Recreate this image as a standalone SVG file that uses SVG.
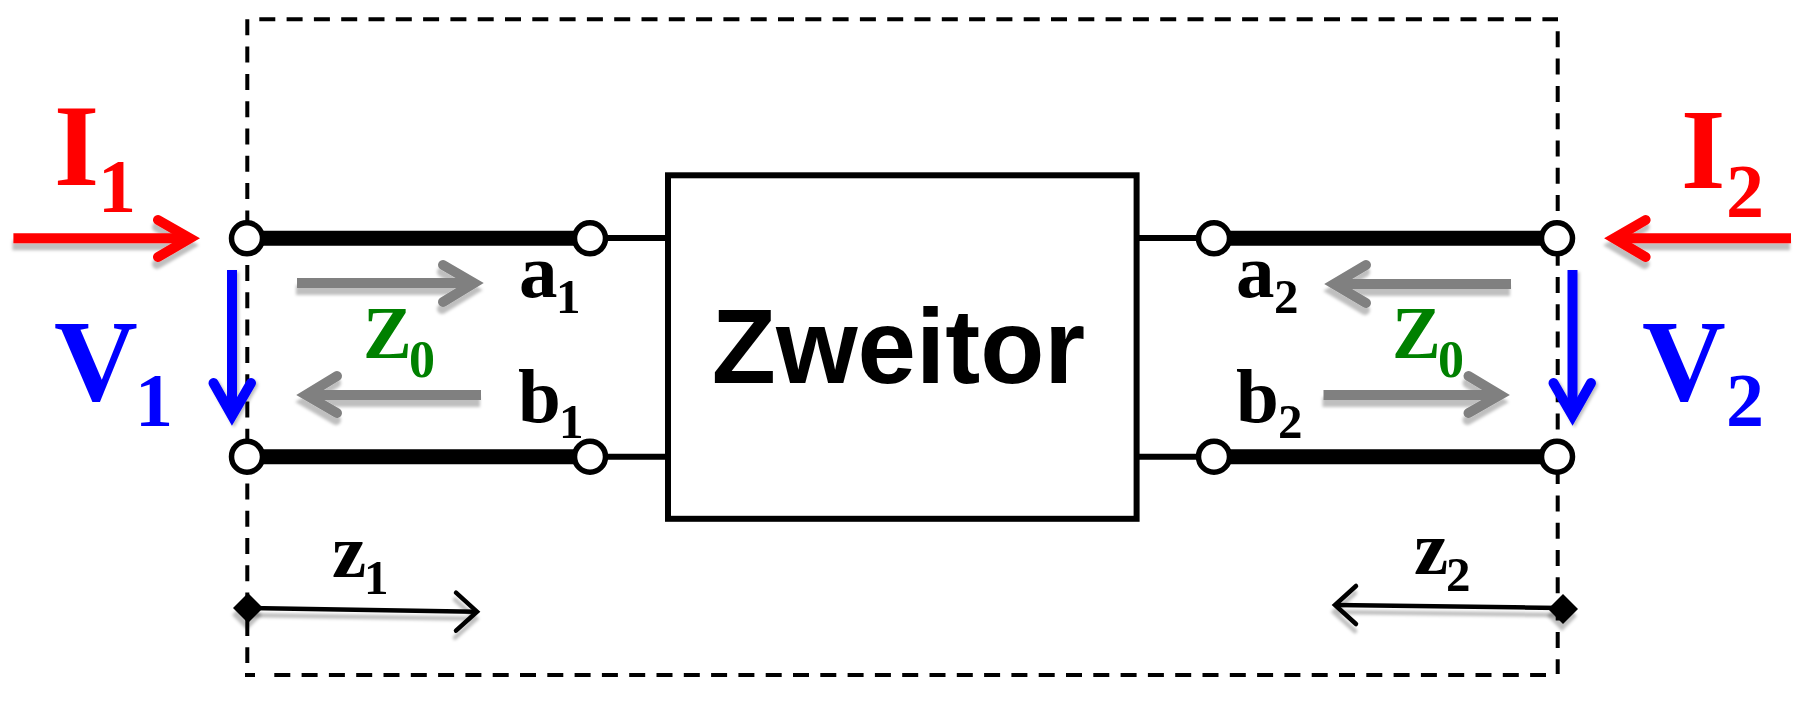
<svg xmlns="http://www.w3.org/2000/svg" width="1802" height="701" viewBox="0 0 1802 701">
<style>
.lb{font-family:"Liberation Serif","Times New Roman",serif;font-weight:700}
.big{font-size:116px}.s1{font-size:76px}.mid{font-size:77px}.s2{font-size:49px}
.z0{font-size:73px;fill:#008000}.z0 tspan{font-size:52px}
.r{fill:#f00}.u{fill:#00f}.k{fill:#000}
.shaft{fill:none;stroke-linecap:butt}
.head{fill:none;stroke-linecap:round;stroke-linejoin:miter;stroke-miterlimit:10}
.a-r{stroke:#f00;stroke-width:10;filter:url(#sh)}
.a-g{stroke:#808080;stroke-width:10;filter:url(#sh)}
.a-u{stroke:#00f;stroke-width:10;filter:url(#shb)}
.a-k{stroke:#000;stroke-width:4.5;filter:url(#sh)}
.thick{stroke:#000;stroke-width:15}
.thin{stroke:#000;stroke-width:6}
.port{fill:#fff;stroke:#000;stroke-width:5.5}
.dia{fill:#000;filter:url(#sh)}
</style>
<defs>
<filter id="sh" x="-20%" y="-60%" width="140%" height="220%"><feDropShadow dx="-1" dy="7" stdDeviation="1.5" flood-color="#000" flood-opacity=".25"/></filter>
<filter id="shb" x="-60%" y="-20%" width="220%" height="140%"><feDropShadow dx="2" dy="2" stdDeviation="1.5" flood-color="#000" flood-opacity=".25"/></filter>
</defs>
<rect width="1802" height="701" fill="#fff"/>
<g id="boundary"><path d="M247.3 19.3V663M259.3 19.3H1558M1557.7 31.3V674M245 675H255M274.3 675H1546" fill="none" stroke="#000" stroke-width="4" stroke-dasharray="16 11.3"/></g>
<g id="connectors">
<path class="thick" d="M247 238.3H590M247 456.7H590M1214 238.3H1557M1214 456.7H1557"/>
<path class="thin" d="M590 238H668M590 456.7H668M1136 238H1214M1136 456.7H1214"/>
<g class="a-r"><path class="shaft" d="M13.4 238.3H189"/><path class="head" d="M158 220L190 238.3 158 257"/></g>
<g class="a-r"><path class="shaft" d="M1791 238.3H1615"/><path class="head" d="M1645.6 220L1614 238.3 1645.6 257"/></g>
<g class="a-g"><path class="shaft" d="M297 283H473"/><path class="head" d="M443 265L474 283 443 302"/></g>
<g class="a-g"><path class="shaft" d="M481 395H307"/><path class="head" d="M337 376L306 395 337 413"/></g>
<g class="a-g"><path class="shaft" d="M1511 284H1335"/><path class="head" d="M1366 265L1334 284 1366 303"/></g>
<g class="a-g"><path class="shaft" d="M1323.5 395H1499"/><path class="head" d="M1468.5 376L1500 395 1468.5 413"/></g>
<g class="a-u"><path class="shaft" d="M232 270V415"/><path class="head" d="M213.5 383L232 415.7 251 383"/></g>
<g class="a-u"><path class="shaft" d="M1572.5 270V415"/><path class="head" d="M1553.5 383L1572.5 415.7 1591 383"/></g>
<g class="a-k"><path class="shaft" d="M248 608L476 611.7"/><path class="head" d="M456 592.7L477 611.7 456 630.7"/></g>
<g class="a-k"><path class="shaft" d="M1563 608L1335.5 605"/><path class="head" d="M1356 586L1335 605 1356 624"/></g>
</g>
<g id="zweitor"><rect x="668" y="175.3" width="468.6" height="343.5" fill="#fff" stroke="#000" stroke-width="6"/>
<text x="898.5" y="382.7" text-anchor="middle" font-family="'Liberation Sans',Arial,sans-serif" font-weight="700" font-size="105">Zweitor</text></g>
<g id="port-1a"><circle class="port" cx="247" cy="238.3" r="15.5"/></g>
<g id="port-1b"><circle class="port" cx="247" cy="456.7" r="15.5"/></g>
<g id="port-1c"><circle class="port" cx="590" cy="238.3" r="15.5"/></g>
<g id="port-1d"><circle class="port" cx="590" cy="456.7" r="15.5"/></g>
<g id="port-2a"><circle class="port" cx="1214" cy="238.3" r="15.5"/></g>
<g id="port-2b"><circle class="port" cx="1214" cy="456.7" r="15.5"/></g>
<g id="port-2c"><circle class="port" cx="1557" cy="238.3" r="15.5"/></g>
<g id="port-2d"><circle class="port" cx="1557" cy="456.7" r="15.5"/></g>
<g id="origin-1"><path class="dia" d="M248 593L263 608 248 623 233 608Z"/></g>
<g id="origin-2"><path class="dia" d="M1563 594L1578 609 1563 624 1548 609Z"/></g>
<g id="labels">
<text class="lb big r" x="54" y="185">I<tspan class="s1" x="98" y="212.3">1</tspan></text>
<text class="lb big r" x="1681" y="188.3" style="font-size:114px">I<tspan class="s1" x="1726" y="216.7">2</tspan></text>
<text class="lb big u" x="54" y="400">V<tspan class="s1" x="135" y="425.7">1</tspan></text>
<text class="lb big u" x="1642" y="400">V<tspan class="s1" x="1726" y="425.7">2</tspan></text>
<text class="lb mid k" x="519" y="296.7">a<tspan class="s2" x="556" y="313">1</tspan></text>
<text class="lb mid k" x="518" y="421.7">b<tspan class="s2" x="559" y="437.7">1</tspan></text>
<text class="lb mid k" x="1236" y="296.7">a<tspan class="s2" x="1274" y="313">2</tspan></text>
<text class="lb mid k" x="1236" y="421.7">b<tspan class="s2" x="1278" y="437.7">2</tspan></text>
<text class="lb z0" x="363" y="358.3">Z<tspan x="409" y="376.7">0</tspan></text>
<text class="lb z0" x="1392" y="358.3">Z<tspan x="1438" y="376.7">0</tspan></text>
<text class="lb mid k" x="332" y="576.7">z<tspan class="s2" x="364" y="594">1</tspan></text>
<text class="lb mid k" x="1414" y="574">z<tspan class="s2" x="1446" y="591">2</tspan></text>
</g>
</svg>
